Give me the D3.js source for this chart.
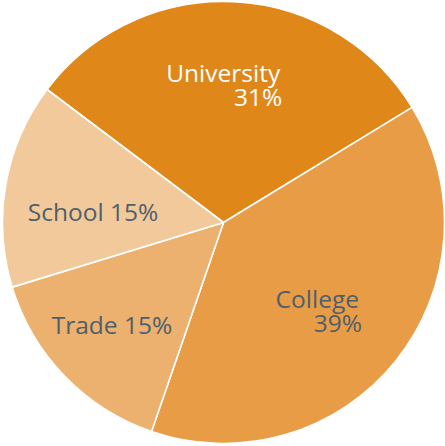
<!DOCTYPE html>
<html>
<head>
<meta charset="utf-8">
<script src="https://cdn.jsdelivr.net/npm/d3@7"></script>
<style>
  html, body { margin: 0; padding: 0; background: #ffffff; }
  svg { display: block; }
  text { font-family: "Open Sans", "Noto Sans", sans-serif; }
</style>
</head>
<body>
<svg id="chart" width="445" height="446"></svg>
<script>
// Share of graduates by type of institution
const categories = ["University", "College", "Trade", "School"];
const shares = [31, 39, 15, 15];
const sliceColors = ["#DF8719", "#E89C45", "#ECB06F", "#F2C99A"];
const labelColors = ["#ffffff", "#4E5F6D", "#4E5F6D", "#4E5F6D"];
// two-line labels put the percentage on its own line, right aligned
const twoLine = [true, true, false, false];

const width = 445, height = 446;
const cx = 223.5, cy = 222.5, radius = 221;
const startOffset = -53 * Math.PI / 180;

const svg = d3.select("#chart");
const g = svg.append("g").attr("transform", `translate(${cx},${cy})`);

const data = categories.map((c, i) => ({ name: c, value: shares[i], i }));

const pie = d3.pie()
  .value(d => d.value)
  .sort(null)
  .startAngle(startOffset)
  .endAngle(startOffset + 2 * Math.PI);

const arcs = pie(data);

const arc = d3.arc().innerRadius(0).outerRadius(radius);
const labelArc = d3.arc().innerRadius(radius * 0.62).outerRadius(radius * 0.62);

g.selectAll("path.slice")
  .data(arcs)
  .join("path")
  .attr("class", "slice")
  .attr("d", arc)
  .attr("fill", d => sliceColors[d.data.i])
  .attr("stroke", "#ffffff")
  .attr("stroke-width", 1.6)
  .attr("stroke-linejoin", "round");

// small nudges from the label centroid
const nudge = [[-7, -0.5], [-13, 3], [-13, 7.5], [4.4, 13.5]];
const pctShift = [2, 3, 0, 0];
const fontSize = 24.5;
const lineGap = 24;

arcs.forEach(d => {
  const i = d.data.i;
  const [x0, y0] = labelArc.centroid(d);
  const x = x0 + nudge[i][0];
  const y = y0 + nudge[i][1];
  const color = labelColors[i];
  const t = g.append("text")
    .attr("font-size", fontSize)
    .attr("fill", color);
  if (twoLine[i]) {
    const nameY = y - lineGap / 2 + fontSize * 0.36;
    const name = t.append("tspan")
      .attr("x", x)
      .attr("y", nameY)
      .attr("text-anchor", "middle")
      .text(d.data.name);
    const w = name.node().getComputedTextLength();
    t.append("tspan")
      .attr("x", x + w / 2 + pctShift[i])
      .attr("y", nameY + lineGap)
      .attr("text-anchor", "end")
      .text(d.data.value + "%");
  } else {
    t.attr("x", x)
      .attr("y", y + fontSize * 0.36)
      .attr("text-anchor", "middle")
      .text(d.data.name + " " + d.data.value + "%");
  }
});
</script>
</body>
</html>
